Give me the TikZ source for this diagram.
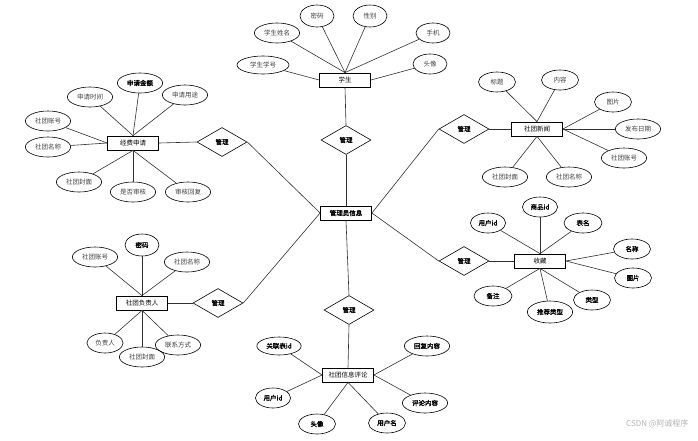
\documentclass[tikz,border=0pt]{standalone}
\usepackage{fontspec}
\usepackage{xcolor}
\usepackage{tikz}
\usetikzlibrary{shapes.geometric}
\newfontfamily\cjk{Noto Sans CJK SC}
\newfontfamily\cjkb[FakeBold=1.5]{Noto Sans CJK SC}
\definecolor{erline}{HTML}{303030}
\definecolor{ertext}{HTML}{404040}

\begin{document}
\begin{tikzpicture}[
    x=1pt, y=-1pt,
    entity/.style={draw, line width=0.8pt, minimum width=51pt, minimum height=14pt, inner sep=1pt, font=\cjk\fontsize{6.5}{7}\selectfont, fill=white},
    attr/.style={draw, ellipse, line width=0.6pt, minimum width=34pt, minimum height=20pt, inner xsep=3pt, inner ysep=1pt, font=\cjk\fontsize{6.5}{7}\selectfont, text=ertext},
    battr/.style={attr, font=\cjkb\fontsize{6.5}{7}\selectfont, text=black},
    rel/.style={draw, diamond, line width=0.6pt, minimum width=50pt, minimum height=29pt, inner sep=0pt, font=\cjkb\fontsize{6.5}{7}\selectfont},
    conn/.style={erline, line width=0.6pt},
]
    \useasboundingbox (0,0) rectangle (698,440);

    % Central entity
    \node[entity, font=\cjkb\fontsize{6.5}{7}\selectfont] (admin) at (346,213) {管理员信息};

    % Entities
    \node[entity] (student) at (345,80) {学生};
    \node[entity] (fund) at (133,143) {经费申请};
    \node[entity] (news) at (537,129) {社团新闻};
    \node[entity] (fav) at (540,261) {收藏};
    \node[entity] (leader) at (142,303) {社团负责人};
    \node[entity] (comment) at (348,375) {社团信息评论};

    % Relations
    \node[rel] (r1) at (346,140) {管理};
    \node[rel] (r2) at (222,142) {管理};
    \node[rel] (r3) at (464,129) {管理};
    \node[rel] (r4) at (464,261) {管理};
    \node[rel] (r5) at (218,303) {管理};
    \node[rel] (r6) at (349,310) {管理};

    \draw[conn] (student.south) -- (r1.north);
    \draw[conn] (r1.south) -- (admin.north);
    \draw[conn] (fund.east) -- (r2.west);
    \draw[conn] (r2.east) -- (admin.west);
    \draw[conn] (news.west) -- (r3.east);
    \draw[conn] (r3.west) -- (admin.east);
    \draw[conn] (fav.west) -- (r4.east);
    \draw[conn] (r4.west) -- (admin.east);
    \draw[conn] (leader.east) -- (r5.west);
    \draw[conn] (r5.east) -- (admin.west);
    \draw[conn] (admin.south) -- (r6.north);
    \draw[conn] (r6.south) -- (comment.north);

    % Student attributes
    \node[attr, minimum width=52pt, minimum height=18pt] (s1) at (263,65) {学生学号};
    \node[attr] (s2) at (277,33) {学生姓名};
    \node[attr, minimum height=22pt] (s3) at (317,16) {密码};
    \node[attr, minimum height=22pt] (s4) at (370,16) {性别};
    \node[attr] (s5) at (433,33) {手机};
    \node[attr] (s6) at (430,64) {头像};
    \draw[conn] (s1) -- (student.west);
    \foreach \a in {s2,s3,s4,s5} \draw[conn] (\a) -- (student.north);
    \draw[conn] (s6) -- (student.east);

    % Fund application attributes
    \node[attr] (f1) at (90,97) {申请时间};
    \node[battr] (f2) at (140,83) {申请金额};
    \node[attr] (f3) at (185,95) {申请用途};
    \node[attr] (f4) at (48,121) {社团账号};
    \node[attr] (f5) at (48,147) {社团名称};
    \node[attr] (f6) at (79,182) {社团封面};
    \node[attr] (f7) at (133,192) {是否审核};
    \node[attr] (f8) at (188,192) {审核回复};
    \foreach \a in {f1,f2,f3} \draw[conn] (\a) -- (fund.north);
    \foreach \a in {f4,f5} \draw[conn] (\a) -- (fund.west);
    \foreach \a in {f6,f7,f8} \draw[conn] (\a) -- (fund.south);

    % News attributes
    \node[attr, minimum width=37pt] (n1) at (497,82) {标题};
    \node[attr, minimum width=37pt] (n2) at (560,80) {内容};
    \node[attr, minimum width=37pt] (n3) at (613,102) {图片};
    \node[attr] (n4) at (638,129) {发布日期};
    \node[attr] (n5) at (624,158) {社团账号};
    \node[attr] (n6) at (569,177) {社团名称};
    \node[attr] (n7) at (505,177) {社团封面};
    \foreach \a in {n1,n2} \draw[conn] (\a) -- (news.north);
    \foreach \a in {n3,n4,n5} \draw[conn] (\a) -- (news.east);
    \foreach \a in {n6,n7} \draw[conn] (\a) -- (news.south);

    % Favourite attributes
    \node[battr] (v1) at (488,223) {用户id};
    \node[battr] (v2) at (540,207) {商品id};
    \node[battr, minimum width=38pt] (v3) at (583,223) {表名};
    \node[battr, minimum width=37pt] (v4) at (632,249) {名称};
    \node[battr, minimum width=37pt] (v5) at (633,278) {图片};
    \node[battr, minimum width=37pt] (v6) at (592,300) {类型};
    \node[battr, minimum height=22pt] (v7) at (550,312) {推荐类型};
    \node[battr, minimum width=38pt] (v8) at (493,296) {备注};
    \foreach \a in {v1,v2,v3} \draw[conn] (\a) -- (fav.north);
    \foreach \a in {v4,v5} \draw[conn] (\a) -- (fav.east);
    \foreach \a in {v6,v7,v8} \draw[conn] (\a) -- (fav.south);

    % Club leader attributes
    \node[attr] (l1) at (95,257) {社团账号};
    \node[battr, minimum height=22pt] (l2) at (142,245) {密码};
    \node[attr] (l3) at (187,262) {社团名称};
    \node[attr] (l4) at (105,343) {负责人};
    \node[attr] (l5) at (142,357) {社团封面};
    \node[attr] (l6) at (178,345) {联系方式};
    \foreach \a in {l1,l2,l3} \draw[conn] (\a) -- (leader.north);
    \foreach \a in {l4,l5,l6} \draw[conn] (\a) -- (leader.south);

    % Comment attributes
    \node[battr, minimum height=18pt] (c1) at (279,346) {关联表id};
    \node[battr] (c2) at (427,346) {回复内容};
    \node[battr] (c3) at (273,398) {用户id};
    \node[battr] (c4) at (425,403) {评论内容};
    \node[battr, minimum width=37pt] (c5) at (317,424) {头像};
    \node[battr, minimum width=37pt] (c6) at (387,423) {用户名};
    \foreach \a in {c1,c3} \draw[conn] (\a) -- (comment.west);
    \foreach \a in {c2,c4} \draw[conn] (\a) -- (comment.east);
    \foreach \a in {c5,c6} \draw[conn] (\a) -- (comment.south);

    % Watermark
    \node[font=\cjk\fontsize{8}{9}\selectfont, text=gray!60, anchor=east] (mark) at (692,424) {CSDN @阿诚程序};

\end{tikzpicture}
\end{document}
